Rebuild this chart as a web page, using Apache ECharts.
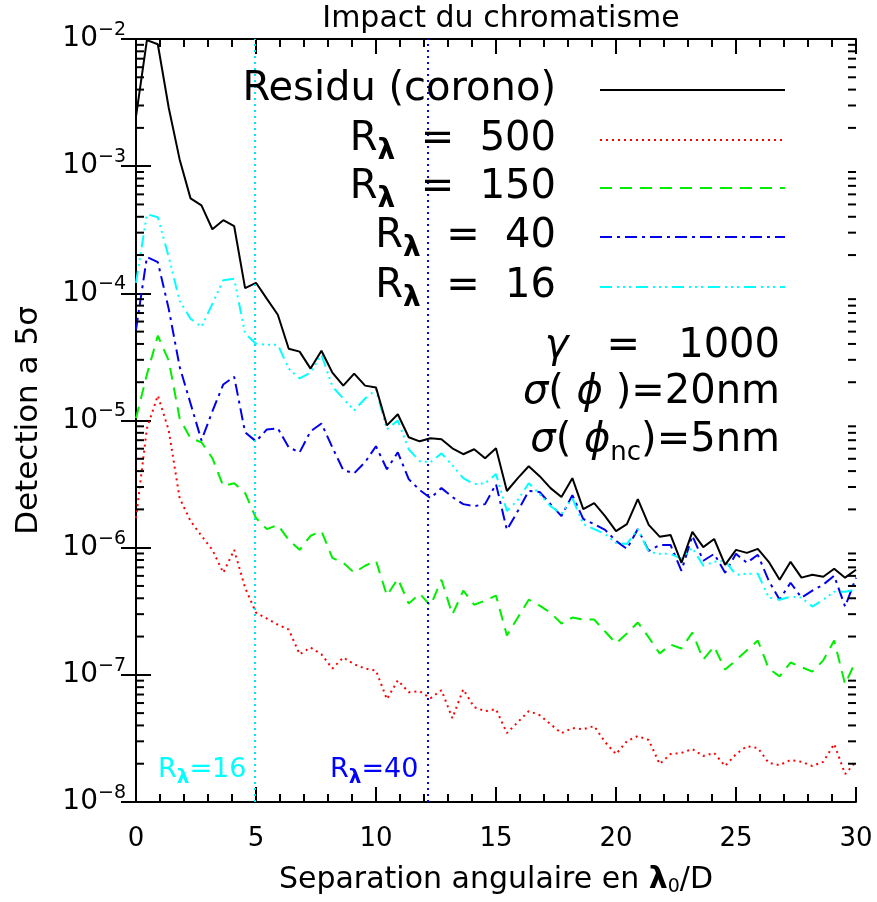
<!DOCTYPE html>
<html>
<head>
<meta charset="utf-8">
<script src="https://cdn.jsdelivr.net/npm/echarts@6/dist/echarts.min.js"></script>
<style>
  html, body { margin: 0; padding: 0; background: #fff; }
  #chart { width: 877px; height: 902px; }
</style>
</head>
<body>
<div id="chart"></div>
<script>
// sampling of the separation axis (lambda0/D), 67 points from 0 to 30
const xs = Array.from({ length: 67 }, (_, i) => +(i * 30 / 66).toFixed(4));

const residu = [2.45e-3, 9.8e-3, 9.1e-3, 2.88e-3, 1.13e-3, 5.58e-4, 4.92e-4, 3.19e-4, 3.76e-4, 3.37e-4,
  1.10e-4, 1.21e-4, 9.04e-5, 6.78e-5, 3.67e-5, 3.48e-5, 2.56e-5, 3.54e-5, 2.38e-5, 1.88e-5,
  2.34e-5, 1.88e-5, 1.82e-5, 9.16e-6, 1.12e-5, 7.38e-6, 6.86e-6, 7.24e-6, 7.11e-6, 6.05e-6,
  5.43e-6, 5.94e-6, 5.05e-6, 6.05e-6, 2.79e-6, 3.52e-6, 4.37e-6, 3.65e-6, 2.94e-6, 2.50e-6,
  3.52e-6, 2.01e-6, 2.24e-6, 1.77e-6, 1.35e-6, 1.53e-6, 2.41e-6, 1.51e-6, 1.22e-6, 1.26e-6,
  7.60e-7, 1.33e-6, 1.01e-6, 1.17e-6, 7.33e-7, 9.61e-7, 9.10e-7, 9.79e-7, 7.74e-7, 5.60e-7,
  7.74e-7, 5.81e-7, 6.12e-7, 5.90e-7, 6.82e-7, 5.81e-7, 6.70e-7];

const r500 = [1.71e-6, 8.67e-6, 1.57e-5, 8.38e-6, 2.45e-6, 1.62e-6, 1.24e-6, 9.61e-7, 6.35e-7, 9.61e-7,
  4.84e-7, 3.08e-7, 2.77e-7, 2.48e-7, 2.27e-7, 1.45e-7, 1.64e-7, 1.45e-7, 1.12e-7, 1.37e-7,
  1.21e-7, 1.12e-7, 1.08e-7, 6.43e-8, 9.06e-8, 7.30e-8, 7.43e-8, 6.55e-8, 7.57e-8, 4.56e-8,
  7.69e-8, 5.57e-8, 5.18e-8, 5.37e-8, 3.48e-8, 4.25e-8, 5.18e-8, 4.82e-8, 4.09e-8, 3.48e-8,
  3.81e-8, 3.74e-8, 3.95e-8, 2.96e-8, 2.38e-8, 3.01e-8, 3.30e-8, 3.07e-8, 1.99e-8, 2.38e-8,
  2.43e-8, 2.61e-8, 2.30e-8, 2.43e-8, 1.92e-8, 2.38e-8, 2.75e-8, 2.66e-8, 2.03e-8, 1.95e-8,
  2.14e-8, 2.07e-8, 1.92e-8, 2.07e-8, 2.86e-8, 1.66e-8, 2.07e-8];

const r150 = [1.04e-5, 2.30e-5, 4.64e-5, 2.96e-5, 1.04e-5, 7.24e-6, 6.75e-6, 5.05e-6, 3.05e-6, 3.21e-6,
  2.69e-6, 1.71e-6, 1.40e-6, 1.51e-6, 1.15e-6, 9.61e-7, 1.24e-6, 1.35e-6, 8.32e-7, 7.60e-7,
  6.35e-7, 7.21e-7, 7.89e-7, 4.20e-7, 5.70e-7, 3.63e-7, 4.35e-7, 3.50e-7, 5.60e-7, 2.98e-7,
  4.59e-7, 3.56e-7, 3.83e-7, 4.20e-7, 2.04e-7, 2.82e-7, 3.90e-7, 3.50e-7, 3.08e-7, 2.53e-7,
  2.82e-7, 2.72e-7, 2.72e-7, 2.19e-7, 1.77e-7, 2.11e-7, 2.58e-7, 1.97e-7, 1.47e-7, 1.73e-7,
  1.61e-7, 2.15e-7, 1.32e-7, 1.67e-7, 1.10e-7, 1.30e-7, 1.56e-7, 1.86e-7, 1.12e-7, 9.72e-8,
  1.25e-7, 1.15e-7, 1.06e-7, 1.30e-7, 1.86e-7, 8.43e-8, 1.30e-7];

const r40 = [5.17e-5, 1.93e-4, 1.76e-4, 7.55e-5, 2.65e-5, 1.36e-5, 6.98e-6, 1.18e-5, 1.92e-5, 2.21e-5,
  8.07e-6, 6.86e-6, 8.51e-6, 8.67e-6, 6.15e-6, 5.62e-6, 8.22e-6, 9.48e-6, 6.15e-6, 4.07e-6,
  3.85e-6, 4.70e-6, 6.27e-6, 4.14e-6, 5.62e-6, 3.46e-6, 2.84e-6, 2.45e-6, 2.94e-6, 2.50e-6,
  2.20e-6, 2.12e-6, 2.20e-6, 3.16e-6, 1.38e-6, 1.94e-6, 2.79e-6, 2.74e-6, 2.20e-6, 1.77e-6,
  2.59e-6, 1.68e-6, 1.53e-6, 1.38e-6, 1.13e-6, 9.79e-7, 1.40e-6, 9.44e-7, 1.05e-6, 1.05e-6,
  6.58e-7, 1.24e-6, 7.89e-7, 8.94e-7, 6.35e-7, 8.94e-7, 7.60e-7, 8.79e-7, 5.50e-7, 3.90e-7,
  5.30e-7, 4.05e-7, 4.59e-7, 5.12e-7, 6.01e-7, 3.44e-7, 5.81e-7];

const r16 = [1.21e-4, 4.19e-4, 3.97e-4, 1.93e-4, 8.73e-5, 6.31e-5, 5.46e-5, 8.26e-5, 1.27e-4, 1.30e-4,
  4.81e-5, 4.02e-5, 3.94e-5, 3.94e-5, 2.56e-5, 2.14e-5, 2.38e-5, 3.30e-5, 1.85e-5, 1.49e-5,
  1.20e-5, 1.49e-5, 1.75e-5, 8.51e-6, 1.00e-5, 5.94e-6, 4.79e-6, 4.70e-6, 5.52e-6, 4.45e-6,
  3.52e-6, 3.16e-6, 3.21e-6, 3.79e-6, 1.94e-6, 2.37e-6, 3.21e-6, 2.64e-6, 2.12e-6, 1.84e-6,
  2.45e-6, 1.53e-6, 1.40e-6, 1.28e-6, 1.09e-6, 1.07e-6, 1.40e-6, 9.27e-7, 8.94e-7, 8.94e-7,
  8.17e-7, 9.96e-7, 7.21e-7, 7.74e-7, 7.89e-7, 6.12e-7, 6.24e-7, 6.24e-7, 4.05e-7, 3.90e-7,
  4.12e-7, 4.05e-7, 3.44e-7, 3.90e-7, 4.51e-7, 4.51e-7, 4.68e-7];

// cut-off separations drawn as vertical dotted lines
const cutR16 = 4.95;
const cutR40 = 12.17;

const yDecades = [1e-8, 1e-7, 1e-6, 1e-5, 1e-4, 1e-3, 1e-2];

const FONT = 'DejaVu Sans';

function pairs(vals) {
  return vals.map((v, i) => [xs[i], v]);
}

// log minor ticks (2..9 x each decade)
const minorY = [];
yDecades.slice(0, -1).forEach(d => {
  for (let k = 2; k <= 9; k++) minorY.push([0, d * k]);
});

const chart = echarts.init(document.getElementById('chart'), null, { renderer: 'canvas' });

const grid = { left: 136, right: 21, top: 39, bottom: 97 };

const xBase = {
  type: 'value', min: 0, max: 30, interval: 5,
  axisLine: { lineStyle: { color: '#000', width: 2 } },
  axisTick: { inside: true, length: 15, lineStyle: { color: '#000', width: 2 } },
  minorTick: { show: true, splitNumber: 5, length: 8, lineStyle: { color: '#000', width: 2 } },
  splitLine: { show: false }
};
const yBase = {
  type: 'log', logBase: 10, min: 1e-8, max: 1e-2,
  axisLine: { lineStyle: { color: '#000', width: 2 } },
  axisTick: { inside: true, length: 15, lineStyle: { color: '#000', width: 2 } },
  splitLine: { show: false }
};

function lineSeries(name, vals, color, dash) {
  return {
    name: name, type: 'line', data: pairs(vals), showSymbol: false, symbol: 'none',
    lineStyle: { color: color, width: 2, type: dash },
    z: 3
  };
}

const option = {
  animation: false,
  backgroundColor: '#fff',
  title: {
    text: 'Impact du chromatisme', left: 496, top: -1, textAlign: 'center',
    textStyle: { fontFamily: FONT, fontSize: 30, fontWeight: 'normal', color: '#000' }
  },
  grid: grid,
  xAxis: [
    Object.assign({}, xBase, {
      position: 'bottom',
      name: 'Separation angulaire en {l|λ}{s|0}/D',
      nameLocation: 'middle', nameGap: 62,
      nameTextStyle: {
        fontFamily: FONT, fontSize: 30, color: '#000',
        rich: {
          l: { fontFamily: FONT, fontSize: 30, fontWeight: 'bold', color: '#000' },
          s: { fontFamily: FONT, fontSize: 19, color: '#000', padding: [14, 0, 0, 0] }
        }
      },
      axisLabel: { margin: 24, fontFamily: FONT, fontSize: 26, color: '#000' }
    }),
    Object.assign({}, xBase, { position: 'top', axisLabel: { show: false } })
  ],
  yAxis: [
    Object.assign({}, yBase, {
      position: 'left',
      name: 'Detection a 5σ', nameLocation: 'middle', nameGap: 92, nameRotate: 90,
      nameTextStyle: { fontFamily: FONT, fontSize: 31, color: '#000' },
      axisLabel: {
        margin: 10,
        formatter: v => '{b|10}{s|−' + Math.round(-Math.log10(v)) + '}',
        rich: {
          b: { fontSize: 28, fontFamily: FONT, color: '#000' },
          s: { fontSize: 19, fontFamily: FONT, color: '#000', padding: [0, 0, 18, 0] }
        }
      }
    }),
    Object.assign({}, yBase, { position: 'right', axisLabel: { show: false } })
  ],
  series: [
    Object.assign(lineSeries('R500', r500, '#ff0000', [2, 4]), {
      markLine: {
        silent: true, symbol: 'none', label: { show: false },
        data: [
          { xAxis: cutR16, lineStyle: { color: '#00e5ee', type: [2, 4], width: 2 } },
          { xAxis: cutR40, lineStyle: { color: '#0000ff', type: [2, 4], width: 2 } }
        ]
      }
    }),
    lineSeries('R150', r150, '#00ee00', [12, 8]),
    lineSeries('R40', r40, '#0000ee', [12, 5, 3, 5]),
    lineSeries('R16', r16, '#00ffff', [12, 5, 2, 4, 2, 4, 2, 5]),
    lineSeries('Residu', residu, '#000000', 'solid'),
    {
      type: 'custom', data: minorY, silent: true, z: 5,
      renderItem: (params, api) => {
        const l = api.coord([0, api.value(1)]);
        const r = api.coord([30, api.value(1)]);
        const st = { stroke: '#000', lineWidth: 2 };
        return {
          type: 'group', children: [
            { type: 'line', shape: { x1: l[0], y1: l[1], x2: l[0] + 8, y2: l[1] }, style: st },
            { type: 'line', shape: { x1: r[0], y1: r[1], x2: r[0] - 8, y2: r[1] }, style: st }
          ]
        };
      }
    }
  ],
  graphic: []
};

// legend block, drawn as text + line samples
const legendRows = [
  { label: '{t|Residu (corono)}', color: '#000', dash: null, y: 90 },
  { label: '{t|R}{l|λ}{t|  =  500}', color: '#ff0000', dash: [2, 4], y: 140 },
  { label: '{t|R}{l|λ}{t|  =  150}', color: '#00ee00', dash: [12, 8], y: 188 },
  { label: '{t|R}{l|λ}{t|  =  40}', color: '#0000ee', dash: [12, 5, 3, 5], y: 237 },
  { label: '{t|R}{l|λ}{t|  =  16}', color: '#00ffff', dash: [12, 5, 2, 4, 2, 4, 2, 5], y: 287 }
];
const bigRich = {
  t: { fontFamily: FONT, fontSize: 40, fill: '#000' },
  l: { fontFamily: FONT, fontSize: 28, fontWeight: 'bold', fill: '#000', padding: [24, 0, 0, 0] },
  g: { fontFamily: FONT, fontSize: 40, fontStyle: 'italic', fill: '#000' },
  n: { fontFamily: FONT, fontSize: 26, fill: '#000', padding: [24, 0, 0, 0] }
};
legendRows.forEach(r => {
  option.graphic.push({
    type: 'text', x: 556, y: r.y, z: 10,
    style: { text: r.label, rich: bigRich, align: 'right', verticalAlign: 'middle' }
  });
  option.graphic.push({
    type: 'line', z: 10,
    shape: { x1: 600, y1: r.y, x2: 785, y2: r.y },
    style: { stroke: r.color, lineWidth: 2, lineDash: r.dash }
  });
});

// parameter annotations
[
  { text: '{g|γ}{t|   =   1000}', y: 347 },
  { text: '{g|σ}{t|( }{g|ϕ}{t| )=20nm}', y: 393 },
  { text: '{g|σ}{t|( }{g|ϕ}{n|nc}{t|)=5nm}', y: 441 }
].forEach(a => {
  option.graphic.push({
    type: 'text', x: 780, y: a.y, z: 10,
    style: { text: a.text, rich: bigRich, align: 'right', verticalAlign: 'middle' }
  });
});

// labels of the two cut-off lines
const smallRich = c => ({
  t: { fontFamily: FONT, fontSize: 27, fill: c },
  l: { fontFamily: FONT, fontSize: 20, fontWeight: 'bold', fill: c, padding: [16, 0, 0, 0] }
});
option.graphic.push({
  type: 'text', x: 158, y: 770, z: 10,
  style: { text: '{t|R}{l|λ}{t|=16}', rich: smallRich('#00ffff'), verticalAlign: 'middle' }
});
option.graphic.push({
  type: 'text', x: 330, y: 770, z: 10,
  style: { text: '{t|R}{l|λ}{t|=40}', rich: smallRich('#0000ff'), verticalAlign: 'middle' }
});

chart.setOption(option);
</script>
</body>
</html>
